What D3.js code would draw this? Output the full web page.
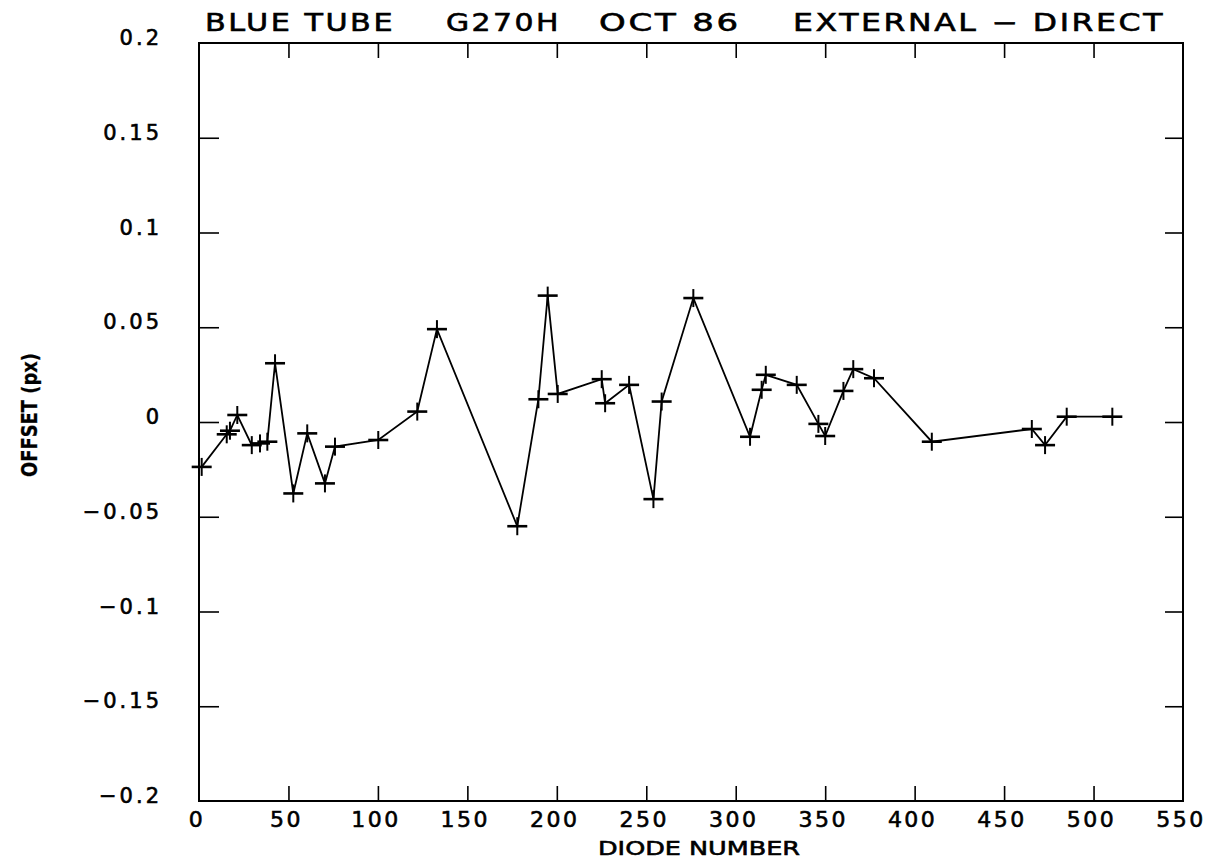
<!DOCTYPE html>
<html>
<head>
<meta charset="utf-8">
<script src="https://cdn.jsdelivr.net/npm/d3@7/dist/d3.min.js"></script>
<style>
  html, body { margin: 0; padding: 0; background: #fff; }
  svg { display: block; }
  text { fill: #000; font-family: "DejaVu Sans", sans-serif; stroke: #000; stroke-width: 0.6; }
</style>
</head>
<body>
<svg id="chart" width="1219" height="863"></svg>
<script>
// ---- data ----
const diode = [1.5, 15.5, 17.3, 21.4, 29.5, 34.1, 38.2, 42.5, 52.7, 60.5, 70.4, 76, 100.2, 122, 133,
  177.9, 189.7, 194.9, 200.5, 225.1, 227, 240.4, 254, 258.6, 276.3, 308, 314.5, 316.8, 334.1,
  346.2, 350, 360.2, 365.7, 377.3, 409.6, 465.5, 472.9, 485, 510.5];
const offset = [-0.0237, -0.0065, -0.0046, 0.0037, -0.0122, -0.0113, -0.0104, 0.031, -0.0377, -0.0060,
  -0.0324, -0.0130, -0.0095, 0.0055, 0.049, -0.0550, 0.0120, 0.0667, 0.0148, 0.0226, 0.0099, 0.0196,
  -0.0407, 0.0108, 0.0654, -0.0078, 0.0170, 0.0249, 0.0196, -0.0010, -0.0074, 0.0164, 0.0279, 0.0231,
  -0.0104, -0.0037, -0.0122, 0.0028, 0.0028];
const xTicks = [0, 50, 100, 150, 200, 250, 300, 350, 400, 450, 500, 550];
const yTicks = [-0.2, -0.15, -0.1, -0.05, 0, 0.05, 0.1, 0.15, 0.2];
const titleParts = ["BLUE TUBE", "G270H", "OCT 86", "EXTERNAL \u2212 DIRECT"];
const xLabel = "DIODE NUMBER";
const yLabel = "OFFSET (px)";

// ---- layout ----
const L = 199, R = 1183, T = 43, B = 801;
const svg = d3.select("#chart");
const x = d3.scaleLinear().domain([0, 550]).range([L, R]);
const y = d3.scaleLinear().domain([-0.2, 0.2]).range([B, T]);

const fmtY = v => v === 0 ? "0" : String(+v.toFixed(2)).replace("-", "\u2212");

// inward ticks on all four sides
const axB = d3.axisBottom(x).tickValues(xTicks.slice(1, -1)).tickSize(-15).tickFormat("");
const axT = d3.axisTop(x).tickValues(xTicks.slice(1, -1)).tickSize(-15).tickFormat("");
const axL = d3.axisLeft(y).tickValues(yTicks.slice(1, -1)).tickSize(-20).tickFormat("");
const axR = d3.axisRight(y).tickValues(yTicks.slice(1, -1)).tickSize(-18).tickFormat("");

function styleAxis(g) {
  g.select(".domain").remove();
  g.selectAll(".tick line").attr("stroke", "#000").attr("stroke-width", 1.6);
}
svg.append("g").attr("transform", `translate(0,${B})`).call(axB).call(styleAxis);
svg.append("g").attr("transform", `translate(0,${T})`).call(axT).call(styleAxis);
svg.append("g").attr("transform", `translate(${L},0)`).call(axL).call(styleAxis);
svg.append("g").attr("transform", `translate(${R},0)`).call(axR).call(styleAxis);

// frame
svg.append("rect").attr("x", L).attr("y", T).attr("width", R - L).attr("height", B - T)
  .attr("fill", "none").attr("stroke", "#000").attr("stroke-width", 2);

// tick labels
svg.append("g").selectAll("text").data(xTicks).join("text")
  .attr("x", d => x(d) - 2).attr("y", 827)
  .attr("text-anchor", "middle").attr("font-size", 22).attr("letter-spacing", 2.5)
  .text(d => d);

svg.append("g").selectAll("text").data(yTicks).join("text")
  .attr("x", 162).attr("y", d => y(d) + 2)
  .attr("text-anchor", "end").attr("font-size", 21).attr("letter-spacing", 3)
  .text(fmtY);

// axis titles
svg.append("text").attr("x", 598).attr("y", 855)
  .attr("font-size", 20).attr("textLength", 202).attr("lengthAdjust", "spacingAndGlyphs").text(xLabel);

svg.append("text").attr("transform", "translate(37,415) rotate(-90)")
  .attr("text-anchor", "middle").attr("font-size", 22).attr("font-weight", "bold")
  .style("stroke-width", 0.3)
  .attr("font-family", "'Liberation Sans Narrow', 'DejaVu Sans Condensed', sans-serif")
  .attr("textLength", 124).attr("lengthAdjust", "spacingAndGlyphs")
  .text(yLabel);

// title
const titlePos = [[205, 190], [446, 115], [599, 142], [793, 372]];
svg.append("g").selectAll("text").data(titleParts).join("text")
  .attr("x", (d, i) => titlePos[i][0]).attr("y", 31)
  .attr("font-size", 24).attr("letter-spacing", 2)
  .attr("textLength", (d, i) => titlePos[i][1]).attr("lengthAdjust", "spacingAndGlyphs")
  .text(d => d);

// data line
const pts = diode.map((d, i) => [d, offset[i]]);
svg.append("path").datum(pts)
  .attr("fill", "none").attr("stroke", "#000").attr("stroke-width", 1.8)
  .attr("d", d3.line().x(d => x(d[0])).y(d => y(d[1])));

// plus markers
const mk = svg.append("g").selectAll("g").data(pts).join("g")
  .attr("transform", d => `translate(${x(d[0])},${y(d[1])})`);
mk.append("line").attr("x1", -10).attr("x2", 10).attr("y1", 0).attr("y2", 0)
  .attr("stroke", "#000").attr("stroke-width", 2.6);
mk.append("line").attr("x1", 0).attr("x2", 0).attr("y1", -9).attr("y2", 9)
  .attr("stroke", "#000").attr("stroke-width", 2);
</script>
</body>
</html>
